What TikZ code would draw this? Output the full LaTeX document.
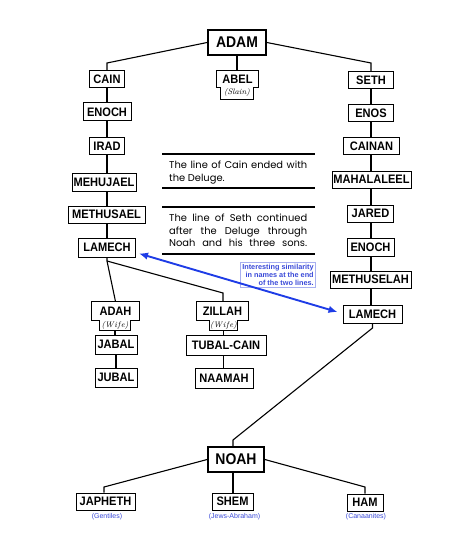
\documentclass[tikz,border=0pt]{standalone}
\usepackage{fontspec}
\usetikzlibrary{arrows.meta,backgrounds,calc}
\newfontfamily\boxfont[FakeStretch=0.9]{Liberation Sans}
\newfontfamily\notefont{Liberation Sans}
\newfontfamily\parafont{Poppins}
\definecolor{arrowblue}{HTML}{1E3CE6}
\definecolor{noteblue}{HTML}{3A4AD8}
\definecolor{noteframe}{HTML}{A8B0F0}
\begin{document}
\begin{tikzpicture}[x=1pt,y=-1pt,
  lbl/.style={draw, line width=1pt, fill=white, inner sep=0pt, minimum height=17pt,
    font=\boxfont\bfseries\fontsize{12.3}{12.3}\selectfont},
  big/.style={lbl, line width=1.7pt, minimum height=25pt,
    font=\boxfont\bfseries\fontsize{15.5}{15.5}\selectfont},
  tabtop/.style={lbl, draw=none},
  tabsub/.style={inner sep=0pt, fill=white, minimum height=12pt,
    font=\itshape\fontsize{8}{8}\selectfont},
  tabline/.style={line width=1pt, line join=miter},
  conn/.style={line width=1.1pt},
  rulez/.style={line width=1.3pt},
  para/.style={inner sep=0pt, anchor=base west, font=\parafont\fontsize{9.9}{11}\selectfont},
  notebox/.style={draw=noteframe, line width=0.6pt, align=right, inner xsep=2pt, inner ysep=2pt,
    text=noteblue, font=\notefont\bfseries\fontsize{7.3}{8}\selectfont},
  tag/.style={text=noteblue, inner sep=0pt, font=\notefont\fontsize{7}{8}\selectfont},
  arrowline/.style={draw=arrowblue, line width=1.9pt,
    {Latex[length=9pt,width=7.5pt]}-{Latex[length=9pt,width=7.5pt]}}
]
\useasboundingbox (0,0) rectangle (448,540);

% ---- nodes
\node[big, minimum width=58pt] (adam) at (237,42.5) {ADAM};
\node[lbl, minimum width=35pt] (cain) at (107,79.5) {CAIN};
\node[tabtop, minimum width=41pt, minimum height=16pt] (abel) at (237.5,79) {ABEL};
\node[tabsub, minimum width=32pt, minimum height=12pt] (abelS) at (237,93) {(Slain)};
\node[lbl, minimum width=45pt] (seth) at (371,80) {SETH};
\node[lbl, minimum width=48pt, minimum height=18pt] (enochL) at (107,112) {ENOCH};
\node[lbl, minimum width=45pt] (enos) at (371,113) {ENOS};
\node[lbl, minimum width=35pt] (irad) at (107,146.5) {IRAD};
\node[lbl, minimum width=56pt] (cainan) at (371.5,146.5) {CAINAN};
\node[lbl, minimum width=64pt, minimum height=18pt] (mehujael) at (104,182) {MEHUJAEL};
\node[lbl, minimum width=79pt] (mahalaleel) at (371.5,179.5) {MAHALALEEL};
\node[lbl, minimum width=77pt] (methusael) at (106.5,214.5) {METHUSAEL};
\node[lbl, minimum width=46pt] (jared) at (370.5,213.5) {JARED};
\node[lbl, minimum width=57pt, minimum height=19pt] (lamechL) at (107,247.5) {LAMECH};
\node[lbl, minimum width=47pt, minimum height=18pt] (enochR) at (370.5,247) {ENOCH};
\node[lbl, minimum width=81pt] (methuselah) at (370.5,279.5) {METHUSELAH};
\node[lbl, minimum width=59pt, minimum height=18pt] (lamechR) at (372.5,314) {LAMECH};

\node[tabtop, minimum width=47pt, minimum height=18pt] (adah) at (115.5,311) {ADAH};
\node[tabsub, minimum width=30pt, minimum height=10pt] (adahS) at (115,325) {(W\kern.6pt i\kern.6pt f\kern.6pt e)};
\node[lbl, minimum width=42pt, minimum height=19pt] (jabal) at (116,344.5) {JABAL};
\node[lbl, minimum width=42pt, minimum height=19pt] (jubal) at (116,377.5) {JUBAL};

\node[tabtop, minimum width=51pt, minimum height=18pt] (zillah) at (222.5,311) {ZILLAH};
\node[tabsub, minimum width=27pt, minimum height=10pt] (zillahS) at (223.5,325) {(W\kern.6pt i\kern.6pt f\kern.6pt e)};
\node[lbl, minimum width=80pt, minimum height=20pt] (tubal) at (226,345) {TUBAL-CAIN};
\node[lbl, minimum width=58pt, minimum height=20pt] (naamah) at (224,378) {NAAMAH};

\node[big, minimum width=56pt] (noah) at (236,459.5) {NOAH};
\node[lbl, minimum width=59pt] (japheth) at (105.5,501.5) {JAPHETH};
\node[lbl, minimum width=41pt] (shem) at (232.5,501.5) {SHEM};
\node[lbl, minimum width=36pt] (ham) at (365,502.5) {HAM};

% tab outlines
\draw[tabline] (abel.north west) -- (abel.north east) -- (abel.south east) -- (abelS.east |- abel.south)
  -- (abelS.south east) -- (abelS.south west) -- (abelS.west |- abel.south) -- (abel.south west) -- cycle;
\draw[tabline] (adah.north west) -- (adah.north east) -- (adah.south east) -- (adahS.east |- adah.south)
  -- (adahS.south east) -- (adahS.south west) -- (adahS.west |- adah.south) -- (adah.south west) -- cycle;
\draw[tabline] (zillah.north west) -- (zillah.north east) -- (zillah.south east) -- (zillahS.east |- zillah.south)
  -- (zillahS.south east) -- (zillahS.south west) -- (zillahS.west |- zillah.south) -- (zillah.south west) -- cycle;

% ---- connectors
\coordinate (k1) at (107,63);
\coordinate (k2) at (371,63);
\coordinate (k3) at (107,261);
\coordinate (k4) at (223,293);
\coordinate (k5) at (372.5,328);
\coordinate (k6) at (233,440);
\coordinate (k7) at (104,487);
\coordinate (k8) at (365,487);
\begin{scope}[on background layer]
\draw[conn] (adam.west) -- (k1) -- (k1 |- cain.north);
\draw[conn] (adam.east) -- (k2) -- (k2 |- seth.north);
\draw[conn] (adam.south) -- (adam.south |- abel.north);
\draw[conn] (cain.south) -- (cain.south |- lamechL.north);
\draw[conn] (seth.south) -- (seth.south |- lamechR.north);
\draw[conn] (lamechL.south) -- (k3) -- (adah.north);
\draw[conn] (k3) -- (k4) -- (k4 |- zillah.north);
\draw[conn] (adahS.south) -- (adahS.south |- jabal.north);
\draw[conn] (jabal.south) -- (jabal.south |- jubal.north);
\draw[conn] (zillahS.south) -- (zillahS.south |- tubal.north);
\draw[conn] (zillahS.south |- tubal.south) -- (zillahS.south |- naamah.north);
\draw[conn] (lamechR.south) -- (k5) -- (k6) -- (k6 |- noah.north);
\draw[conn] (noah.west) -- (k7) -- (k7 |- japheth.north);
\draw[conn] (k6 |- noah.south) -- (k6 |- shem.north);
\draw[conn] (noah.east) -- (k8) -- (k8 |- ham.north);
\end{scope}

% ---- text block
\draw[rulez] (162,154) -- (315,154);
\draw[rulez] (162,188) -- (315,188);
\draw[rulez] (162,207) -- (315,207);
\draw[rulez] (162,254) -- (315,254);
\node[para] (p1a) at (169,168) {\makebox[138pt][s]{The line of Cain ended with}};
\node[para] (p1b) at (169,182) {the Deluge.};
\node[para] (p2a) at (169,221.5) {\makebox[138pt][s]{The line of Seth continued}};
\node[para] (p2b) at (169,234) {\makebox[138pt][s]{after the Deluge through}};
\node[para] (p2c) at (169,246) {\makebox[138pt][s]{Noah and his three sons.}};

% ---- annotation and arrow
\node[notebox, anchor=north east] (note) at (316,262) {Interesting similarity\\in names at the end\\of the two lines.};
\coordinate (a1) at ([shift={(3,-4)}]lamechL.south east);
\coordinate (a2) at ([shift={(-5,-2)}]lamechR.west);
\draw[arrowline] (a1) -- (a2);

% ---- tags
\node[tag] (tj) at (107,517) {(Gentiles)};
\node[tag] (ts) at (234.5,517) {(Jews-Abraham)};
\node[tag] (th) at (366,517) {(Canaanites)};
\end{tikzpicture}
\end{document}
